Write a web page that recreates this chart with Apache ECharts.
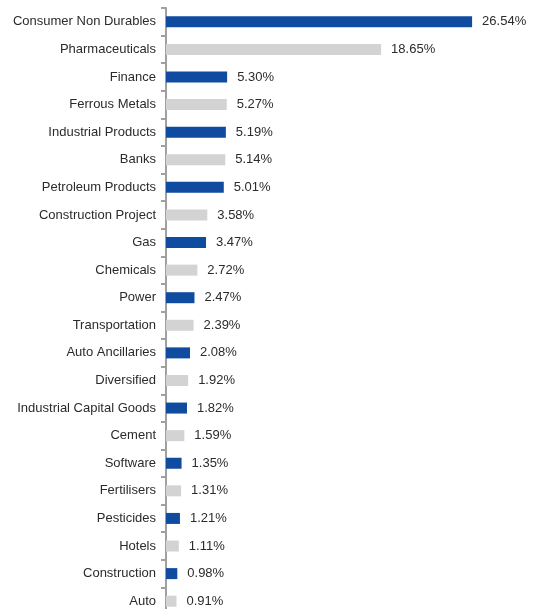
<!DOCTYPE html>
<html>
<head>
<meta charset="utf-8">
<script src="https://cdn.jsdelivr.net/npm/echarts@6/dist/echarts.min.js"></script>
<style>
  html, body { margin: 0; padding: 0; background: #fff; }
  #chart { width: 537px; height: 609px; }
</style>
</head>
<body>
<div id="chart"></div>
<script>
// Sector allocation (% of net assets), top to bottom
const sectors = [
  'Consumer Non Durables', 'Pharmaceuticals', 'Finance', 'Ferrous Metals',
  'Industrial Products', 'Banks', 'Petroleum Products', 'Construction Project',
  'Gas', 'Chemicals', 'Power', 'Transportation', 'Auto Ancillaries',
  'Diversified', 'Industrial Capital Goods', 'Cement', 'Software',
  'Fertilisers', 'Pesticides', 'Hotels', 'Construction', 'Auto'
];
const weights = [
  26.54, 18.65, 5.30, 5.27, 5.19, 5.14, 5.01, 3.58, 3.47, 2.72, 2.47,
  2.39, 2.08, 1.92, 1.82, 1.59, 1.35, 1.31, 1.21, 1.11, 0.98, 0.91
];

const BLUE = '#0f4c9f';
const GREY = '#d3d3d3';

const chart = echarts.init(document.getElementById('chart'));
chart.setOption({
  animation: false,
  // the plot runs slightly past the bottom edge of the canvas
  grid: {
    left: 166, width: 346, top: 8, height: 607,
    containLabel: false, outerBoundsMode: 'none'
  },
  xAxis: {
    type: 'value', min: 0, max: 30, show: false
  },
  yAxis: {
    type: 'category',
    inverse: true,
    data: sectors,
    axisLine: { show: true, lineStyle: { color: '#a0a0a0', width: 2 } },
    axisTick: { show: true, length: 5, lineStyle: { color: '#a0a0a0', width: 2 } },
    axisLabel: {
      margin: 10,
      color: '#2b2b2b',
      fontSize: 13,
      fontFamily: 'Liberation Sans, Arial, sans-serif'
    }
  },
  series: [{
    type: 'bar',
    data: weights.map((v, i) => ({
      value: v,
      itemStyle: { color: i % 2 === 0 ? BLUE : GREY }
    })),
    barWidth: 11,
    label: {
      show: true,
      position: 'right',
      distance: 10,
      color: '#2b2b2b',
      fontSize: 13,
      fontFamily: 'Liberation Sans, Arial, sans-serif',
      formatter: p => p.value.toFixed(2) + '%'
    }
  }]
});
</script>
</body>
</html>
